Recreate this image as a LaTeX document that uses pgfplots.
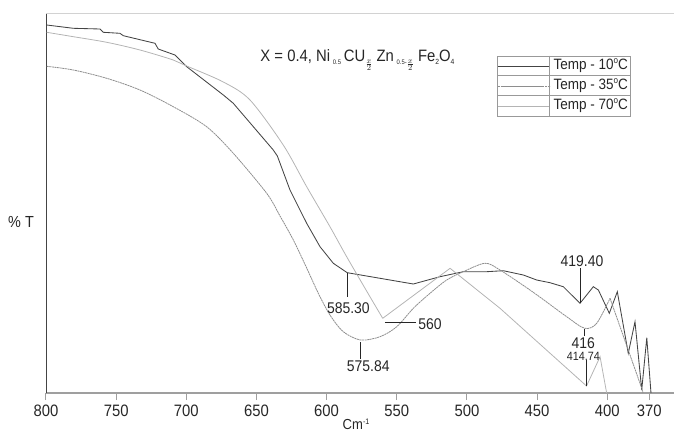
\documentclass[border=0pt]{standalone}
\usepackage{pgfplots}
\pgfplotsset{compat=1.18}
\usepackage{fontspec}
\setmainfont{Liberation Sans}[FakeStretch=0.9]

\definecolor{tdark}{HTML}{444444}
\definecolor{tmid}{HTML}{8E8E8E}
\definecolor{tlight}{HTML}{B4B4B4}
\definecolor{ink}{HTML}{262626}

\newcommand{\degsign}{\raisebox{5.5pt}{\fontsize{9}{9}\selectfont o}}

\begin{document}
\begin{tikzpicture}[peak/.style={inner sep=0pt, text=ink, font=\fontsize{15.5}{16}\selectfont}]
\begin{axis}[
  at={(46pt,39pt)}, anchor=south west,
  scale only axis, width=628pt, height=379pt,
  x dir=reverse,
  xmin=352.4, xmax=800, ymin=0, ymax=379,
  axis x line*=bottom, axis y line*=left,
  x axis line style={draw=gray!75, line width=1.2pt, -},
  y axis line style={draw=tdark, line width=0.8pt, -},
  xtick={800,750,700,650,600,550,500,450,400,370},
  ytick=\empty,
  tick align=outside, major tick length=7pt,
  x tick style={draw=gray!75, line width=1pt},
  /pgf/number format/assume math mode=true,
  xticklabel style={font=\fontsize{16.5}{17}\selectfont, text=ink, yshift=-1pt},
  clip=false,
  legend style={name=leg, at={(0.7186,0.890)}, anchor=north west,
    draw=gray!80, line width=0.8pt, inner sep=0pt, row sep=0pt, column sep=0pt,
    font=\fontsize{15}{15}\selectfont, text=ink,
    nodes={inner xsep=3pt, inner ysep=0pt, text height=13pt, text depth=7pt},
    cells={anchor=west}},
  legend image code/.code={\path (-6pt,0pt) -- (46pt,0pt);
                           \draw[#1] (0pt,0pt) -- (40pt,0pt);},
]

% 10 C
\addplot[color=tdark, line width=0.85pt] table {
799.5 368
780.5 364.7
761.5 364
759.2 360.7
747.3 359.7
744.9 357.3
722.3 349.7
720.0 344
708.1 338
699.7 326.3
673.6 298
666.5 289.7
638.0 243
635.1 237
626.1 203
614.2 169.7
604.7 146.3
595.2 129.7
585.3 120.3
561.9 114.7
538.2 109
519.2 116.3
502.6 121.3
485.9 121.3
474.1 122.3
459.8 118
450.3 113
440.8 110.3
431.3 106.3
419.4 89.7
409.9 106.3
406.3 103
398.5 79.7
392.8 101.3
385.0 39.7
380.2 71.3
375.4 3
371.8 55.3
368.8 0
};
\addlegendentry{Temp - 10\degsign C}

% 35 C: smooth band up to the shoulder near 398
\addplot[color=tmid, line width=0.8pt, dash pattern=on 2pt off 0.6pt, smooth, tension=0.5] table {
799.5 326.7
780.5 323
756.7 314.7
733.0 303
709.3 286.3
685.5 266.3
666.5 239.7
642.7 199.7
633.2 177
623.7 153
614.2 125
605.9 99.7
597.6 78
588.1 61.3
575.84 53
561.9 56.3
550.0 66.3
538.2 84.7
526.3 99.7
514.4 113
502.6 121.3
487.1 129.7
476.4 123
452.7 100.7
428.9 76.3
416 64.7
407.5 69.7
398.0 94.7
};
\addlegendentry{Temp - 35\degsign C}
\addplot[forget plot, color=tmid, line width=0.8pt, dash pattern=on 2pt off 0.6pt] table {
398.0 94.7
375.4 4.7
374.5 0
};

% 70 C: smooth descent to 560, then straight segments
\addplot[color=tlight, line width=0.8pt, smooth, tension=0.5] table {
799.5 360.7
780.5 356.3
756.7 350.7
733.0 343
709.3 333
699.7 327
673.6 311
654.6 293
630.9 248
614.2 206.3
597.6 166.3
585.7 136.3
569.1 96.3
560 74.7
};
\addlegendentry{Temp - 70\degsign C}
\addplot[forget plot, color=tlight, line width=0.8pt] table {
560 74.7
512.0 124.7
476.4 84.7
414.74 7
405.1 36.3
400.4 0
};

% frame line along the top
\draw[gray!35, line width=1pt] (axis description cs:0,1) -- (axis description cs:1,1);

% peak annotations
\draw[ink, line width=0.7pt] (axis cs:419.4,125) -- (axis cs:419.4,90);
\node[peak] at (axis cs:418,132.3) {419.40};
\draw[ink, line width=0.7pt] (axis cs:585.3,120.3) -- (axis cs:585.3,96);
\node[peak] at (axis cs:584.5,84.7) {585.30};
\draw[ink, line width=0.7pt] (axis cs:558.5,70.3) -- (axis cs:536,70.3);
\node[peak] at (axis cs:526.3,68.7) {560};
\draw[ink, line width=0.7pt] (axis cs:575.84,51) -- (axis cs:575.84,34);
\node[peak] at (axis cs:570.3,27.3) {575.84};
\draw[ink, line width=0.7pt] (axis cs:416,64) -- (axis cs:416,57);
\node[peak] at (axis cs:417,50.3) {416};
\draw[ink, line width=0.7pt] (axis cs:414.74,33) -- (axis cs:414.74,7);
\node[peak, font=\fontsize{12}{12}\selectfont] at (axis cs:417,36.8) {414.74};

% title
\node[font=\fontsize{16.5}{16.5}\selectfont, text=ink] at (axis cs:578,333)
  {X = 0.4, Ni\,\raisebox{-3pt}{\fontsize{6.5}{6.5}\selectfont 0.5}\,CU\raisebox{-5pt}{$\scriptscriptstyle\frac{x}{2}$}\ Zn\,\raisebox{-3pt}{\fontsize{6.5}{6.5}\selectfont 0.5-}\raisebox{-5pt}{$\scriptscriptstyle\frac{x}{2}$}\ Fe\raisebox{-3pt}{\fontsize{7.5}{7.5}\selectfont 2}O\raisebox{-3pt}{\fontsize{7.5}{7.5}\selectfont 4}};

% axis labels
\node[font=\fontsize{16}{16}\selectfont, text=ink] at (axis cs:817.8,171) {\% T};
\node[font=\fontsize{14.5}{14.5}\selectfont, text=ink] at (axis cs:579,-31) {Cm\raisebox{5pt}{\fontsize{8}{8}\selectfont -1}};
\end{axis}

% grid lines of the legend table
\draw[gray!80, line width=0.8pt] ([yshift=-20pt]leg.north west) -- ([yshift=-20pt]leg.north east);
\draw[gray!80, line width=0.8pt] ([yshift=-40pt]leg.north west) -- ([yshift=-40pt]leg.north east);
\draw[gray!80, line width=0.8pt] ([xshift=52pt]leg.north west) -- ([xshift=52pt]leg.south west);

\pgfresetboundingbox
\path[use as bounding box] (0,0) rectangle (674pt,432pt);
\end{tikzpicture}
\end{document}
